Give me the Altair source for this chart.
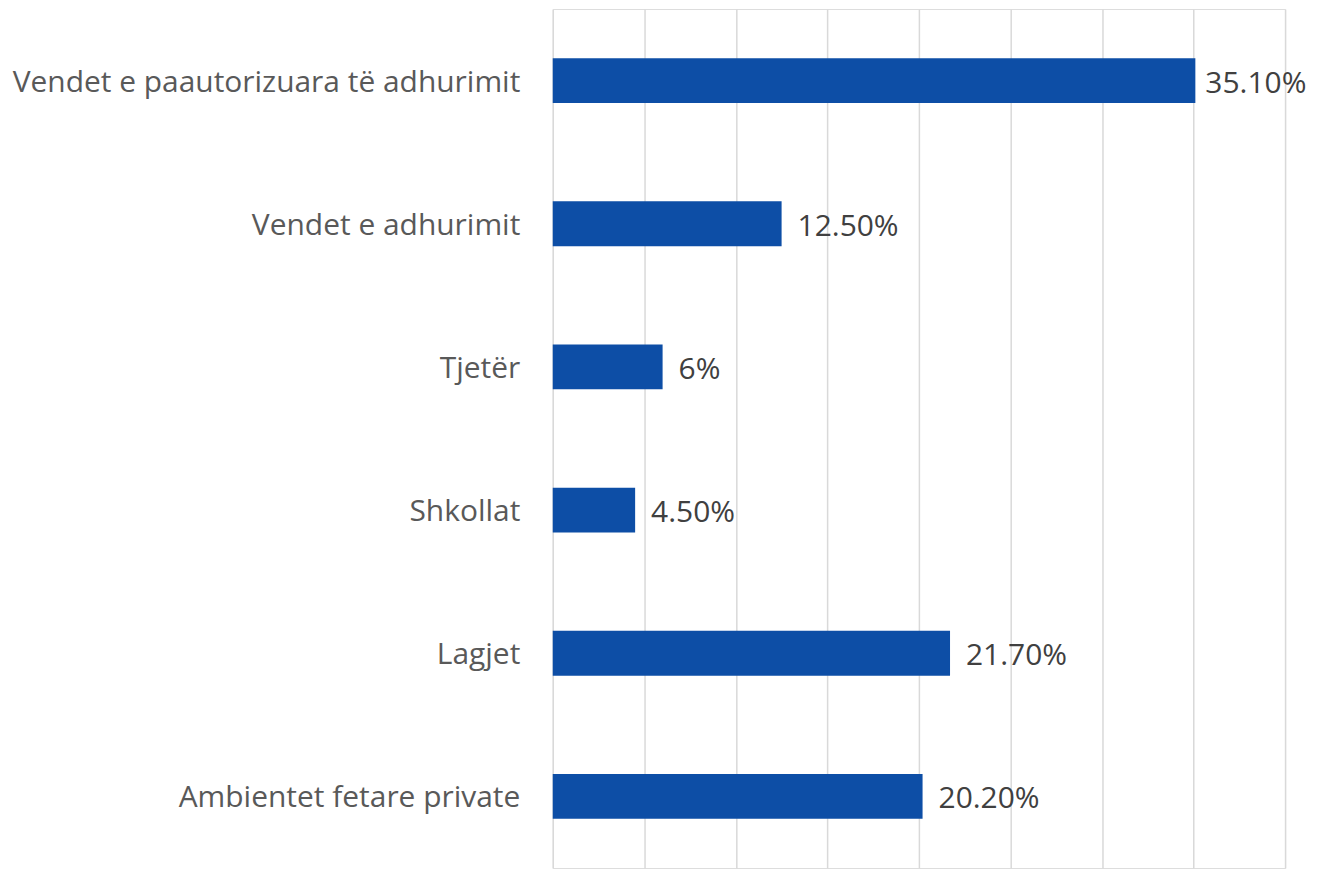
import altair as alt
import pandas as pd

categories = [
    "Vendet e paautorizuara të adhurimit",
    "Vendet e adhurimit",
    "Tjetër",
    "Shkollat",
    "Lagjet",
    "Ambientet fetare private",
]
values = [35.1, 12.5, 6.0, 4.5, 21.7, 20.2]
labels = ["35.10%", "12.50%", "6%", "4.50%", "21.70%", "20.20%"]
x_ticks = [0, 5, 10, 15, 20, 25, 30, 35, 40]

df = pd.DataFrame({"cat": categories, "val": values, "lab": labels})

FONT = "Open Sans"

y_enc = alt.Y(
    "cat:N",
    sort=categories,
    title=None,
    scale=alt.Scale(paddingInner=0.687, paddingOuter=0.3435),
    axis=alt.Axis(
        labelFont=FONT,
        labelFontSize=30,
        labelColor="#595959",
        labelPadding=33,
        labelOffset=2,
        ticks=False,
        domain=False,
        grid=False,
        minExtent=546,
        maxExtent=546,
        labelLimit=600,
    ),
)

x_enc = alt.X(
    "val:Q",
    title=None,
    scale=alt.Scale(domain=[0, 40], nice=False),
    axis=alt.Axis(
        values=x_ticks,
        labels=False,
        ticks=False,
        domain=False,
        grid=True,
        gridColor="#D9D9D9",
        gridWidth=1.5,
    ),
)

bars = alt.Chart(df).mark_bar(color="#0D4EA6").encode(x=x_enc, y=y_enc)

text_style = dict(
    align="left",
    baseline="middle",
    dy=3,
    font=FONT,
    fontSize=30,
    color="#404040",
)

text_enc = dict(
    x=alt.X("val:Q"),
    y=alt.Y("cat:N", sort=categories),
    text="lab:N",
)

text_main = (
    alt.Chart(df)
    .transform_filter("datum.val < 30")
    .mark_text(dx=16, **text_style)
    .encode(**text_enc)
)
text_edge = (
    alt.Chart(df)
    .transform_filter("datum.val >= 30")
    .mark_text(dx=10, **text_style)
    .encode(**text_enc)
)

chart = (
    alt.layer(bars, text_main, text_edge)
    .properties(width=734, height=861, padding={"left": 0, "top": 0, "right": 5, "bottom": 0})
    .configure_view(stroke=None)
    .configure(background="white")
)

chart.save("out.html", embed_options={"renderer": "svg", "actions": False})
